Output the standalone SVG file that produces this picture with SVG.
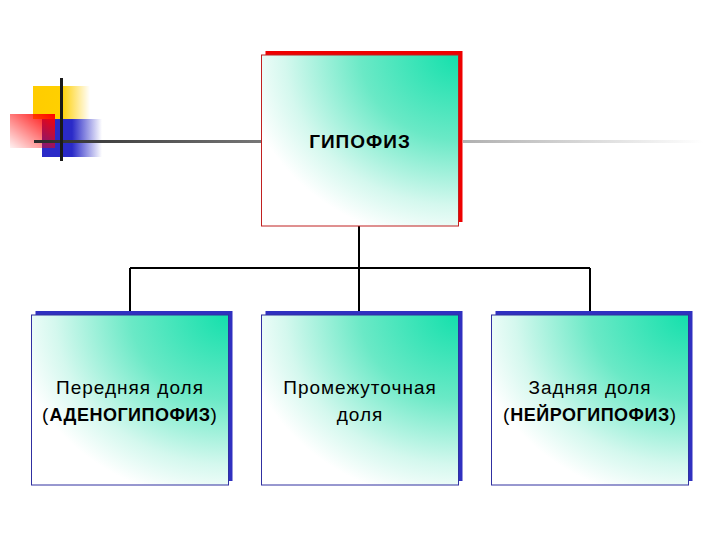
<svg xmlns="http://www.w3.org/2000/svg" width="720" height="540" viewBox="0 0 720 540">
<defs>
<radialGradient id="boxg" cx="1" cy="0" r="1.1" fx="1" fy="0">
<stop offset="0" stop-color="#14e0ac"/>
<stop offset="0.45" stop-color="#6ae9c6"/>
<stop offset="0.8" stop-color="#d4f8ee"/>
<stop offset="1" stop-color="#ffffff"/>
</radialGradient>
<linearGradient id="yel" x1="0" y1="0" x2="1" y2="0">
<stop offset="0" stop-color="#ffcc00"/>
<stop offset="0.5" stop-color="#ffd000"/>
<stop offset="1" stop-color="#ffcc00" stop-opacity="0"/>
</linearGradient>
<linearGradient id="red" x1="1" y1="0" x2="0" y2="1">
<stop offset="0" stop-color="#ff0000"/>
<stop offset="1" stop-color="#ff0000" stop-opacity="0.05"/>
</linearGradient>
<linearGradient id="blu" x1="0" y1="0" x2="1" y2="0">
<stop offset="0" stop-color="#2a2ac8"/>
<stop offset="0.5" stop-color="#2a2ac8"/>
<stop offset="1" stop-color="#2a2ac8" stop-opacity="0"/>
</linearGradient>
<linearGradient id="hl" x1="0" y1="0" x2="1" y2="0">
<stop offset="0" stop-color="#2a2a2a"/>
<stop offset="1" stop-color="#777777"/>
</linearGradient>
<linearGradient id="hr" x1="0" y1="0" x2="1" y2="0">
<stop offset="0" stop-color="#b0b0b0"/>
<stop offset="1" stop-color="#ffffff"/>
</linearGradient>
</defs>
<style>
.box{fill:url(#boxg);stroke:#c02020;stroke-width:1}
.boxb{fill:url(#boxg);stroke:#3030a0;stroke-width:1}
.t{font-family:"Liberation Sans",Arial,sans-serif;font-size:19px;letter-spacing:1px;fill:#000;text-anchor:middle}
.b{font-weight:bold;font-size:18px;letter-spacing:0.5px}
.conn{stroke:#000;stroke-width:2;fill:none}
</style>
<g id="decor">
<rect x="33" y="86" width="57" height="33" fill="url(#yel)"/>
<rect x="42" y="119" width="60" height="38" fill="url(#blu)"/>
<rect x="10" y="114" width="45" height="34" fill="url(#red)"/>
<rect x="34" y="140" width="228" height="3" fill="url(#hl)"/>
<rect x="463" y="140" width="240" height="3" fill="url(#hr)"/>
<rect x="60" y="78" width="3" height="83" fill="#1a1a1a"/>
</g>
<g id="connectors">
<path class="conn" d="M359 226 V268 M130 268 H590 M130 268 V311 M359 268 V311 M590 268 V311"/>
</g>
<g id="n0">
<rect x="265.5" y="51" width="197" height="171" fill="#ee0000"/>
<rect class="box" x="261.5" y="55" width="197" height="171"/>
<text class="t b" x="360" y="148" style="font-size:19px;letter-spacing:1px">ГИПОФИЗ</text>
</g>
<g id="n1">
<rect x="35.5" y="311" width="197" height="170" fill="#3030c0"/>
<rect class="boxb" x="31.5" y="315" width="197" height="170"/>
<text class="t" x="130" y="394">Передняя доля</text>
<text class="t" x="130" y="421">(<tspan class="b">АДЕНОГИПОФИЗ</tspan>)</text>
</g>
<g id="n2">
<rect x="265.5" y="311" width="197" height="170" fill="#3030c0"/>
<rect class="boxb" x="261.5" y="315" width="197" height="170"/>
<text class="t" x="360" y="394">Промежуточная</text>
<text class="t" x="360" y="421">доля</text>
</g>
<g id="n3">
<rect x="495.5" y="311" width="197" height="170" fill="#3030c0"/>
<rect class="boxb" x="491.5" y="315" width="197" height="170"/>
<text class="t" x="590" y="394">Задняя доля</text>
<text class="t" x="590" y="421">(<tspan class="b">НЕЙРОГИПОФИЗ</tspan>)</text>
</g>
</svg>
